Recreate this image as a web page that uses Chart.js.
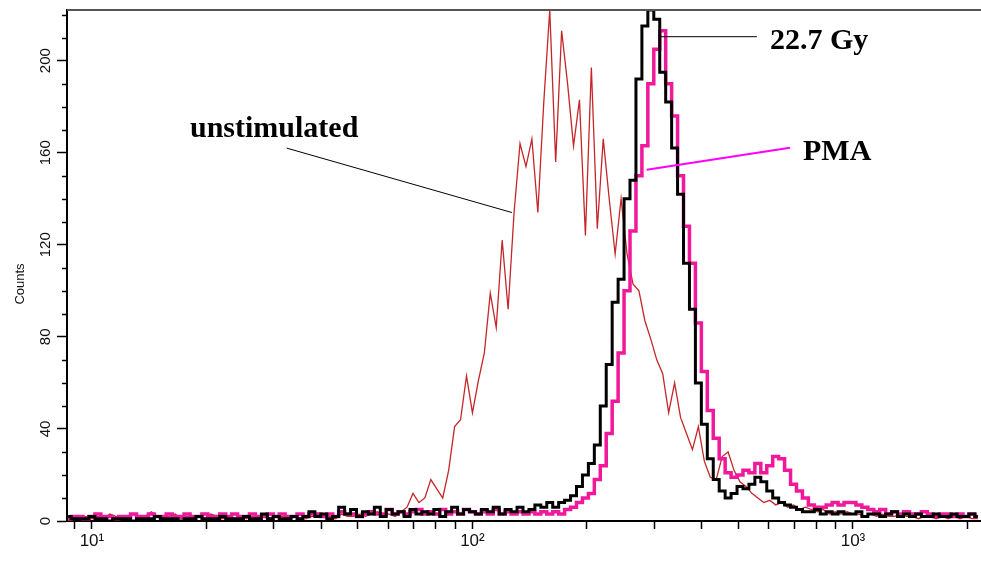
<!DOCTYPE html>
<html lang="en">

<head>
    <meta charset="UTF-8" />
    <title>Counts histogram</title>
    <script src="https://cdn.jsdelivr.net/npm/chart.js"></script>
    <style>
        body { margin: 0; background: #fff; }
        #caixa { width: 981px; height: 562px; }
    </style>
</head>

<body>
    <div id="caixa">
        <canvas id="grafico"></canvas>
    </div>

<script>
    // instrument channels: 64 per decade, first channel shown = 60
    const canaisPorDecada = 64;
    const primeiroCanal = 60;

    // counts per channel, channels 60..213
    const unstimulated = [
        0, 1, 1, 2, 1, 2, 1, 3, 2, 1,
        2, 3, 1, 2, 4, 2, 1, 2, 3, 1,
        2, 1, 2, 1, 3, 2, 1, 2, 1, 2,
        1, 2, 1, 3, 1, 2, 2, 1, 2, 3,
        1, 2, 2, 3, 2, 1, 3, 2, 2, 3,
        2, 3, 4, 3, 3, 2, 4, 6, 12, 8,
        10, 18, 14, 10, 22, 41, 44, 63, 47, 61,
        73, 99, 84, 122, 92, 134, 164, 154, 166, 134,
        182, 222, 156, 213, 190, 163, 183, 124, 197, 127,
        166, 140, 116, 140, 116, 103, 100, 87, 79, 70,
        64, 47, 60, 45, 38, 31, 41, 26, 19, 18,
        28, 30, 22, 17, 15, 12, 10, 8, 9, 7,
        8, 6, 7, 5, 6, 5, 4, 5, 3, 4,
        3, 4, 3, 3, 2, 3, 2, 3, 2, 2,
        3, 2, 2, 1, 2, 2, 1, 2, 1, 2,
        1, 2, 1, 1
    ];

    const gy227 = [
        2, 1, 1, 1, 2, 1, 1, 0, 1, 1,
        1, 0, 1, 1, 1, 2, 1, 1, 1, 0,
        1, 1, 2, 1, 1, 1, 2, 1, 1, 1,
        2, 1, 1, 3, 1, 2, 1, 1, 2, 1,
        2, 4, 2, 3, 1, 2, 6, 3, 5, 2,
        4, 3, 6, 2, 5, 3, 4, 2, 5, 3,
        4, 3, 5, 2, 4, 6, 3, 5, 4, 3,
        5, 4, 6, 3, 5, 4, 6, 4, 5, 7,
        6, 8, 6, 8, 9, 11, 15, 20, 25, 33,
        50, 68, 95, 105, 140, 148, 192, 215, 222, 218,
        195, 182, 162, 142, 112, 92, 60, 42, 27, 18,
        13, 10, 12, 15, 14, 16, 19, 17, 13, 10,
        8, 7, 6, 5, 4, 4, 5, 3, 4, 3,
        4, 3, 3, 4, 2, 3, 3, 2, 3, 4,
        2, 3, 2, 3, 2, 2, 3, 2, 2, 3,
        2, 2, 3, 2
    ];

    const pma = [
        1, 2, 2, 1, 2, 3, 2, 2, 1, 2,
        2, 3, 2, 2, 3, 2, 2, 3, 2, 2,
        3, 2, 2, 3, 2, 2, 3, 2, 3, 2,
        2, 3, 2, 2, 3, 2, 3, 2, 2, 3,
        2, 3, 3, 2, 3, 2, 4, 3, 3, 2,
        3, 4, 3, 3, 5, 3, 4, 3, 4, 5,
        3, 4, 3, 5, 3, 4, 3, 5, 4, 3,
        4, 3, 5, 3, 4, 3, 4, 3, 4, 3,
        4, 3, 4, 3, 5, 6, 8, 10, 12, 18,
        24, 38, 52, 73, 100, 126, 150, 163, 190, 205,
        213, 190, 176, 150, 128, 112, 86, 65, 48, 36,
        27, 21, 19, 20, 22, 21, 25, 21, 24, 28,
        27, 22, 16, 13, 10, 7, 6, 6, 7, 8,
        7, 8, 8, 7, 6, 5, 4, 5, 3, 4,
        3, 4, 3, 3, 4, 3, 2, 3, 3, 2,
        3, 2, 3, 2
    ];

    // axis
    const xMin = 8.6;
    const xMax = 2170;
    const yMax = 222;
    const xTicks = [9, 10, 20, 30, 40, 50, 60, 70, 80, 90, 100, 200, 300, 400, 500, 600, 700, 800, 900, 1000, 2000];
    const xLabels = { 10: '10\u00B9', 100: '10\u00B2', 1000: '10\u00B3' };
    const yTicks = [0, 40, 80, 120, 160, 200];

    // labels drawn on the plot (data units)
    const anotacoes = [
        { texto: 'unstimulated', x: 18.1, y: 167, cor: '#000', linha: [32.5, 162, 127, 134], largura: 1 },
        { texto: '22.7 Gy', x: 605, y: 205, cor: '#000', linha: [311, 210.4, 559, 210.4], largura: 1 },
        { texto: 'PMA', x: 739, y: 157, cor: '#ff00ff', linha: [287, 152.6, 683, 162.2], largura: 2 }
    ];

    function montarPontos(contagens) {
        let pontos = [];
        for (let i = 0; i < contagens.length; i++) {
            pontos.push({ x: Math.pow(10, (primeiroCanal + i) / canaisPorDecada), y: contagens[i] });
        }
        return pontos;
    }

    const pluginEixos = {
        id: 'eixos',
        afterDraw(chart) {
            const ctx = chart.ctx;
            const area = chart.chartArea;
            const escY = chart.scales.y;

            ctx.save();
            // top frame
            ctx.strokeStyle = '#555';
            ctx.lineWidth = 2;
            ctx.beginPath();
            ctx.moveTo(area.left, area.top);
            ctx.lineTo(area.right, area.top);
            ctx.stroke();

            // minor ticks on y
            ctx.strokeStyle = '#000';
            ctx.lineWidth = 1.5;
            for (let v = 10; v <= yMax; v += 10) {
                if (v % 40 == 0) continue;
                let py = Math.round(escY.getPixelForValue(v)) + 0.5;
                ctx.beginPath();
                ctx.moveTo(area.left - 5, py);
                ctx.lineTo(area.left, py);
                ctx.stroke();
            }

            // rotated y labels
            ctx.fillStyle = '#111';
            ctx.font = '15px "Liberation Sans", Arial, sans-serif';
            ctx.textAlign = 'center';
            ctx.textBaseline = 'middle';
            for (let i = 0; i < yTicks.length; i++) {
                let py = escY.getPixelForValue(yTicks[i]);
                ctx.save();
                ctx.translate(46, py);
                ctx.rotate(-Math.PI / 2);
                ctx.fillText(String(yTicks[i]), 0, 0);
                ctx.restore();
            }

            // axis title
            ctx.font = '13px "Liberation Sans", Arial, sans-serif';
            ctx.save();
            ctx.translate(20, 284);
            ctx.rotate(-Math.PI / 2);
            ctx.fillText('Counts', 0, 0);
            ctx.restore();
            ctx.restore();
        },
        afterDatasetsDraw(chart) {
            const ctx = chart.ctx;
            const escX = chart.scales.x;
            const escY = chart.scales.y;
            ctx.save();
            for (let i = 0; i < anotacoes.length; i++) {
                let a = anotacoes[i];
                ctx.strokeStyle = a.cor;
                ctx.lineWidth = a.largura;
                ctx.beginPath();
                ctx.moveTo(escX.getPixelForValue(a.linha[0]), escY.getPixelForValue(a.linha[1]));
                ctx.lineTo(escX.getPixelForValue(a.linha[2]), escY.getPixelForValue(a.linha[3]));
                ctx.stroke();

                ctx.fillStyle = '#000';
                ctx.font = 'bold 30px "Liberation Serif", "Times New Roman", serif';
                ctx.textAlign = 'left';
                ctx.textBaseline = 'alphabetic';
                ctx.fillText(a.texto, escX.getPixelForValue(a.x), escY.getPixelForValue(a.y));
            }
            ctx.restore();
        }
    };

    const dados = {
        datasets: [
            {
                label: '22.7 Gy',
                data: montarPontos(gy227),
                borderColor: '#000000',
                borderWidth: 3,
                stepped: 'middle',
                pointRadius: 0
            },
            {
                label: 'PMA',
                data: montarPontos(pma),
                borderColor: '#f0189b',
                borderWidth: 3.5,
                stepped: 'middle',
                pointRadius: 0
            },
            {
                label: 'unstimulated',
                data: montarPontos(unstimulated),
                borderColor: '#c4262a',
                borderWidth: 1.3,
                tension: 0,
                pointRadius: 0
            }
        ]
    };

    const config = {
        type: 'line',
        data: dados,
        options: {
            responsive: true,
            maintainAspectRatio: false,
            animation: false,
            layout: { padding: { top: 10, left: 0, right: 0, bottom: 0 } },
            plugins: {
                legend: { display: false },
                tooltip: { enabled: false }
            },
            scales: {
                x: {
                    type: 'logarithmic',
                    min: xMin,
                    max: xMax,
                    afterBuildTicks: function (escala) {
                        escala.ticks = xTicks.map(function (v) { return { value: v, major: false }; });
                    },
                    afterFit: function (escala) { escala.height = 41; },
                    grid: { drawOnChartArea: false, drawTicks: true, tickLength: 8, tickColor: '#000', tickWidth: 1.5 },
                    border: { display: true, color: '#000', width: 2 },
                    ticks: {
                        autoSkip: false,
                        maxRotation: 0,
                        minRotation: 0,
                        padding: 2,
                        color: '#111',
                        font: { family: '"Liberation Sans", Arial, sans-serif', size: 17 },
                        callback: function (valor) {
                            return xLabels[valor] || '';
                        }
                    }
                },
                y: {
                    min: 0,
                    max: yMax,
                    afterFit: function (escala) { escala.width = 67; },
                    grid: { drawOnChartArea: false, drawTicks: true, tickLength: 10, tickColor: '#000', tickWidth: 1.5 },
                    border: { display: true, color: '#000', width: 2 },
                    ticks: { stepSize: 40, includeBounds: false, display: false }
                }
            }
        },
        plugins: [pluginEixos]
    };

    new Chart(document.getElementById('grafico'), config);
</script>
</body>

</html>
